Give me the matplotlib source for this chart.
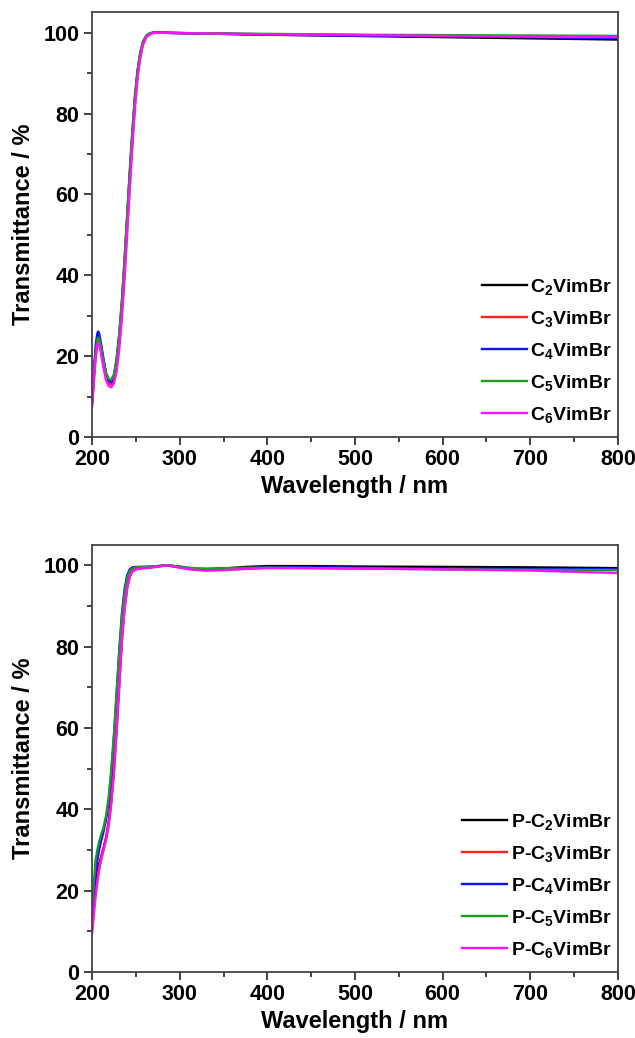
import matplotlib
matplotlib.use('Agg')
import matplotlib.pyplot as plt
from matplotlib.ticker import MultipleLocator

plt.rcParams['font.family'] = ['Liberation Sans', 'DejaVu Sans']
plt.rcParams['font.weight'] = 'bold'
plt.rcParams['mathtext.fontset'] = 'custom'
plt.rcParams['mathtext.rm'] = 'Liberation Sans:bold'
plt.rcParams['mathtext.bf'] = 'Liberation Sans:bold'
plt.rcParams['mathtext.default'] = 'bf'

# monomers: wavelength (nm) and transmittance (%)
wl_mono = [200, 202, 204, 206, 207, 208, 210, 213, 216, 219, 222, 225, 228, 231,
           234, 237, 240, 243, 246, 249, 252, 255, 258, 262, 266, 270, 275, 300,
           400, 500, 600, 700, 800]
t_c2 = [8.5, 15.0, 21.0, 24.3, 25.0, 24.6, 22.6, 18.8, 15.6, 14.2, 14.0, 15.3, 19.0, 25.0,
        33.0, 43.0, 54.0, 65.0, 75.0, 84.0, 90.5, 94.8, 97.6, 99.2, 99.8, 100.0, 100.0, 99.9,
        99.5, 99.2, 98.9, 98.6, 98.3]
t_c3 = [8.0, 14.0, 19.8, 23.0, 23.6, 23.3, 21.6, 18.0, 14.8, 13.3, 13.0, 14.2, 17.6, 23.4,
        31.2, 41.0, 52.0, 63.0, 73.5, 82.8, 89.6, 94.2, 97.2, 99.0, 99.7, 100.0, 100.0, 99.9,
        99.6, 99.4, 99.2, 99.0, 98.8]
t_c4 = [9.0, 16.0, 22.5, 25.6, 26.1, 25.6, 23.4, 19.3, 15.7, 13.9, 13.6, 14.8, 18.5, 24.5,
        32.5, 42.5, 53.5, 64.5, 74.8, 83.8, 90.3, 94.7, 97.5, 99.2, 99.8, 100.0, 100.0, 99.9,
        99.5, 99.3, 99.1, 98.9, 98.7]
t_c5 = [8.8, 15.4, 21.0, 24.0, 24.6, 24.3, 22.5, 18.8, 15.7, 14.3, 14.1, 15.5, 19.4, 25.6,
        33.8, 44.0, 55.0, 66.0, 76.0, 84.8, 91.0, 95.2, 97.8, 99.3, 99.9, 100.0, 100.0, 99.9,
        99.7, 99.5, 99.4, 99.3, 99.2]
t_c6 = [7.5, 13.5, 19.5, 22.6, 23.2, 22.9, 21.0, 17.2, 14.0, 12.6, 12.3, 13.3, 16.3, 21.6,
        29.2, 38.8, 49.8, 61.0, 71.8, 81.5, 88.8, 93.7, 96.9, 98.9, 99.6, 99.9, 100.0, 99.9,
        99.6, 99.4, 99.2, 99.0, 98.9]

# polymers
wl_poly = [200, 202, 204, 206, 208, 210, 213, 216, 219, 222, 225, 228, 231, 234,
           237, 240, 243, 246, 250, 255, 260, 270, 285, 300, 315, 330, 350, 375,
           400, 450, 500, 600, 700, 800]
t_p2 = [11.0, 16.5, 21.5, 24.5, 26.5, 28.0, 30.5, 33.0, 37.0, 43.0, 51.0, 61.0, 72.0, 82.5,
        90.0, 94.8, 97.5, 98.6, 99.1, 99.3, 99.4, 99.6, 100.0, 99.6, 99.1, 99.0, 99.2, 99.6,
        99.8, 99.8, 99.7, 99.6, 99.5, 99.3]
t_p3 = [10.5, 15.5, 20.0, 23.2, 25.5, 27.3, 30.0, 32.8, 36.5, 42.0, 49.5, 59.5, 70.5, 81.5,
        89.5, 94.5, 97.3, 98.5, 99.0, 99.2, 99.4, 99.6, 100.0, 99.5, 99.0, 98.8, 98.9, 99.2,
        99.4, 99.4, 99.3, 99.1, 99.0, 98.9]
t_p4 = [12.0, 18.5, 24.0, 27.5, 30.0, 32.0, 34.5, 37.5, 42.0, 49.0, 58.0, 68.5, 79.0, 88.0,
        94.0, 97.5, 99.0, 99.5, 99.6, 99.6, 99.6, 99.7, 100.0, 99.6, 99.1, 98.9, 99.0, 99.3,
        99.5, 99.5, 99.4, 99.2, 99.1, 99.0]
t_p5 = [15.5, 22.0, 27.5, 30.0, 32.0, 33.5, 35.5, 38.5, 43.0, 50.0, 58.5, 68.5, 78.5, 87.0,
        93.0, 96.8, 98.6, 99.2, 99.5, 99.6, 99.6, 99.7, 100.0, 99.7, 99.3, 99.2, 99.3, 99.4,
        99.4, 99.3, 99.2, 99.0, 98.9, 98.8]
t_p6 = [9.5, 14.0, 18.5, 22.0, 25.0, 27.3, 30.0, 32.5, 36.0, 41.5, 49.0, 59.0, 70.0, 81.0,
        89.0, 94.2, 97.2, 98.5, 99.0, 99.2, 99.3, 99.5, 100.0, 99.4, 98.9, 98.7, 98.8, 99.1,
        99.3, 99.3, 99.2, 99.0, 98.7, 98.1]

colors = ['black', '#ff2020', '#1010ff', '#1e9a1e', '#ff10ff']
mono_labels = ['C$_{%d}$VimBr' % n for n in range(2, 7)]
poly_labels = ['P-C$_{%d}$VimBr' % n for n in range(2, 7)]

fig = plt.figure(figsize=(6.35, 10.38), dpi=100)
ax1 = fig.add_axes([0.145, 0.579, 0.828, 0.409])
ax2 = fig.add_axes([0.145, 0.0636, 0.828, 0.4114])


def style(ax):
    ax.set_xlim(200, 800)
    ax.set_ylim(0, 105)
    ax.xaxis.set_major_locator(MultipleLocator(100))
    ax.xaxis.set_minor_locator(MultipleLocator(50))
    ax.yaxis.set_major_locator(MultipleLocator(20))
    ax.yaxis.set_minor_locator(MultipleLocator(10))
    ax.tick_params(which='major', direction='out', length=6, width=1.3, pad=3,
                   labelsize=15.5, colors='#333333', labelcolor='black')
    ax.tick_params(which='minor', direction='out', length=3.5, width=1.3,
                   colors='#333333')
    ax.tick_params(top=False, right=False)
    for sp in ax.spines.values():
        sp.set_linewidth(1.3)
        sp.set_color('#444444')
    ax.set_xlabel('Wavelength / nm', fontsize=17, fontweight='bold', labelpad=3)
    ax.set_ylabel('Transmittance / %', fontsize=17, fontweight='bold', labelpad=6)


for ys, c, lab in zip([t_c2, t_c3, t_c4, t_c5, t_c6], colors, mono_labels):
    ax1.plot(wl_mono, ys, color=c, lw=1.7, label=lab)
for ys, c, lab in zip([t_p2, t_p3, t_p4, t_p5, t_p6], colors, poly_labels):
    ax2.plot(wl_poly, ys, color=c, lw=1.7, label=lab)

for ax in (ax1, ax2):
    style(ax)
    ax.legend(loc='lower right', bbox_to_anchor=(1.0, 0.015), frameon=False,
              fontsize=14, handlelength=2.3, handletextpad=0.2,
              labelspacing=0.62, borderaxespad=0.0, borderpad=0.3)

fig.savefig('out.png', dpi=100)
